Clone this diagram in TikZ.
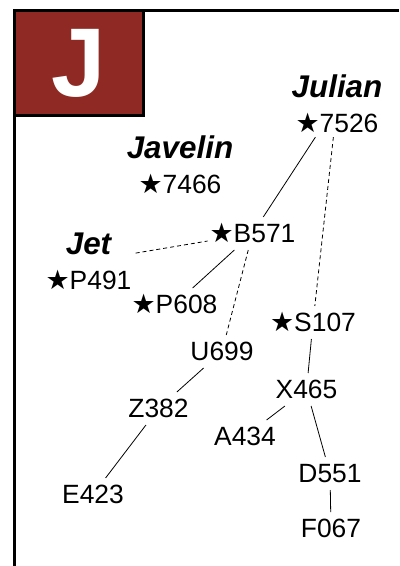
\documentclass[tikz,border=0pt]{standalone}
\usepackage{fontspec}
\setmainfont{Liberation Sans}
\newfontfamily\starfont{DejaVu Sans}
\definecolor{badgered}{RGB}{142,41,35}
\newcommand{\starmark}{{\starfont\fontsize{27}{27}\selectfont ★}}
\newcommand{\ttl}[1]{{\fontsize{31.5}{35}\selectfont\bfseries\itshape #1}}

\begin{document}
\begin{tikzpicture}[x=1bp, y=-1bp,
    every node/.style={font=\fontsize{26.5}{35}\selectfont},
    lbl/.style={anchor=base, inner xsep=1bp, inner ysep=1bp, outer sep=1bp,
        text height=23bp, text depth=6bp},
    grp/.style={align=center, inner sep=4bp},
    badge/.style={fill=badgered, draw=black, line width=3bp, text=white,
        minimum width=129bp, minimum height=105bp, inner sep=0pt,
        font=\fontsize{98}{98}\selectfont\bfseries},
    link/.style={line width=0.8bp},
    weak/.style={link, dash pattern=on 4bp off 3bp}]
    \useasboundingbox (0,0) rectangle (399,566);
    % frame and badge
    \draw[line width=3bp] (399,10.5) -| (14.5,566);
    \node[badge] (badge) at (79,63) {J};
    % groups
    \node[grp] (julian) at (337,104) {\ttl{Julian}\\\starmark 7526};
    \node[grp] (javelin) at (180,164.5) {\ttl{Javelin}\\\starmark 7466};
    \node[grp] (jet) at (88.5,261) {\ttl{Jet}\\\starmark P491};
    % single labels
    \foreach \n/\x/\y/\t in {b571/252.5/242/\starmark B571, p608/174.5/313/\starmark P608,
        s107/313/331/\starmark S107, u699/222/360/U699, x465/306.5/398/X465,
        z382/158.5/417/Z382, a434/245/445/A434, d551/330/482/D551,
        e423/93/503/E423, f067/331/537/F067}
        \node[lbl] (\n) at (\x,\y) {\t};
    % connectors
    \foreach \a/\b in {julian/b571, b571/p608, u699/z382, z382/e423,
        s107/x465, x465/a434, x465/d551, d551/f067}
        \draw[link] (\a) -- (\b);
    \foreach \a/\b in {julian/s107, jet/b571, b571/u699}
        \draw[weak] (\a) -- (\b);
\end{tikzpicture}
\end{document}
